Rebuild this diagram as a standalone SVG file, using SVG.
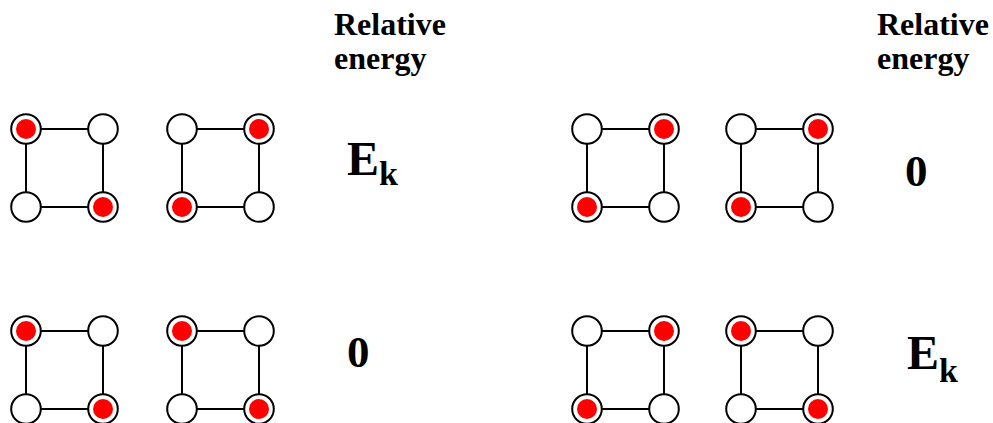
<svg xmlns="http://www.w3.org/2000/svg" xmlns:xlink="http://www.w3.org/1999/xlink" width="993" height="423" viewBox="0 0 993 423">
<style>
.e{stroke:#000;stroke-width:2;fill:none}
.n{fill:#fff;stroke:#000;stroke-width:2}
.r{fill:#f00;stroke:none}
.t{font-family:"Liberation Serif","Times New Roman",serif;font-weight:bold;fill:#000}
.h{font-size:32px}
.b{font-size:48px}
.z{font-size:45px}
.s{font-size:34px}
</style>
<defs>
<rect id="sq" x="0" y="0" width="77" height="78" class="e"/>
<circle id="o" r="14.8" class="n"/>
<g id="x"><circle r="14.8" class="n"/><circle r="10" class="r"/></g>
</defs>
<g id="connectors">
<use xlink:href="#sq" x="26" y="129"/>
<use xlink:href="#sq" x="182" y="129"/>
<use xlink:href="#sq" x="587" y="129"/>
<use xlink:href="#sq" x="741" y="129"/>
<use xlink:href="#sq" x="26" y="331"/>
<use xlink:href="#sq" x="182" y="331"/>
<use xlink:href="#sq" x="587" y="331"/>
<use xlink:href="#sq" x="741" y="331"/>
</g>
<g id="s1">
<use xlink:href="#x" x="26" y="129"/><use xlink:href="#o" x="103" y="129"/>
<use xlink:href="#o" x="26" y="207"/><use xlink:href="#x" x="103" y="207"/>
</g>
<g id="s2">
<use xlink:href="#o" x="182" y="129"/><use xlink:href="#x" x="259" y="129"/>
<use xlink:href="#x" x="182" y="207"/><use xlink:href="#o" x="259" y="207"/>
</g>
<g id="s3">
<use xlink:href="#o" x="587" y="129"/><use xlink:href="#x" x="664" y="129"/>
<use xlink:href="#x" x="587" y="207"/><use xlink:href="#o" x="664" y="207"/>
</g>
<g id="s4">
<use xlink:href="#o" x="741" y="129"/><use xlink:href="#x" x="818" y="129"/>
<use xlink:href="#x" x="741" y="207"/><use xlink:href="#o" x="818" y="207"/>
</g>
<g id="s5">
<use xlink:href="#x" x="26" y="331"/><use xlink:href="#o" x="103" y="331"/>
<use xlink:href="#o" x="26" y="409"/><use xlink:href="#x" x="103" y="409"/>
</g>
<g id="s6">
<use xlink:href="#x" x="182" y="331"/><use xlink:href="#o" x="259" y="331"/>
<use xlink:href="#o" x="182" y="409"/><use xlink:href="#x" x="259" y="409"/>
</g>
<g id="s7">
<use xlink:href="#o" x="587" y="331"/><use xlink:href="#x" x="664" y="331"/>
<use xlink:href="#x" x="587" y="409"/><use xlink:href="#o" x="664" y="409"/>
</g>
<g id="s8">
<use xlink:href="#x" x="741" y="331"/><use xlink:href="#o" x="818" y="331"/>
<use xlink:href="#o" x="741" y="409"/><use xlink:href="#x" x="818" y="409"/>
</g>
<g id="labels">
<text class="t h" x="334" y="35">Relative</text>
<text class="t h" x="334" y="69">energy</text>
<text class="t h" x="877" y="35">Relative</text>
<text class="t h" x="877" y="69">energy</text>
<text class="t b" x="347" y="175">E<tspan class="s" dy="10">k</tspan></text>
<text class="t z" x="905" y="186">0</text>
<text class="t z" x="347" y="367">0</text>
<text class="t b" x="907" y="369">E<tspan class="s" dy="13">k</tspan></text>
</g>
</svg>
